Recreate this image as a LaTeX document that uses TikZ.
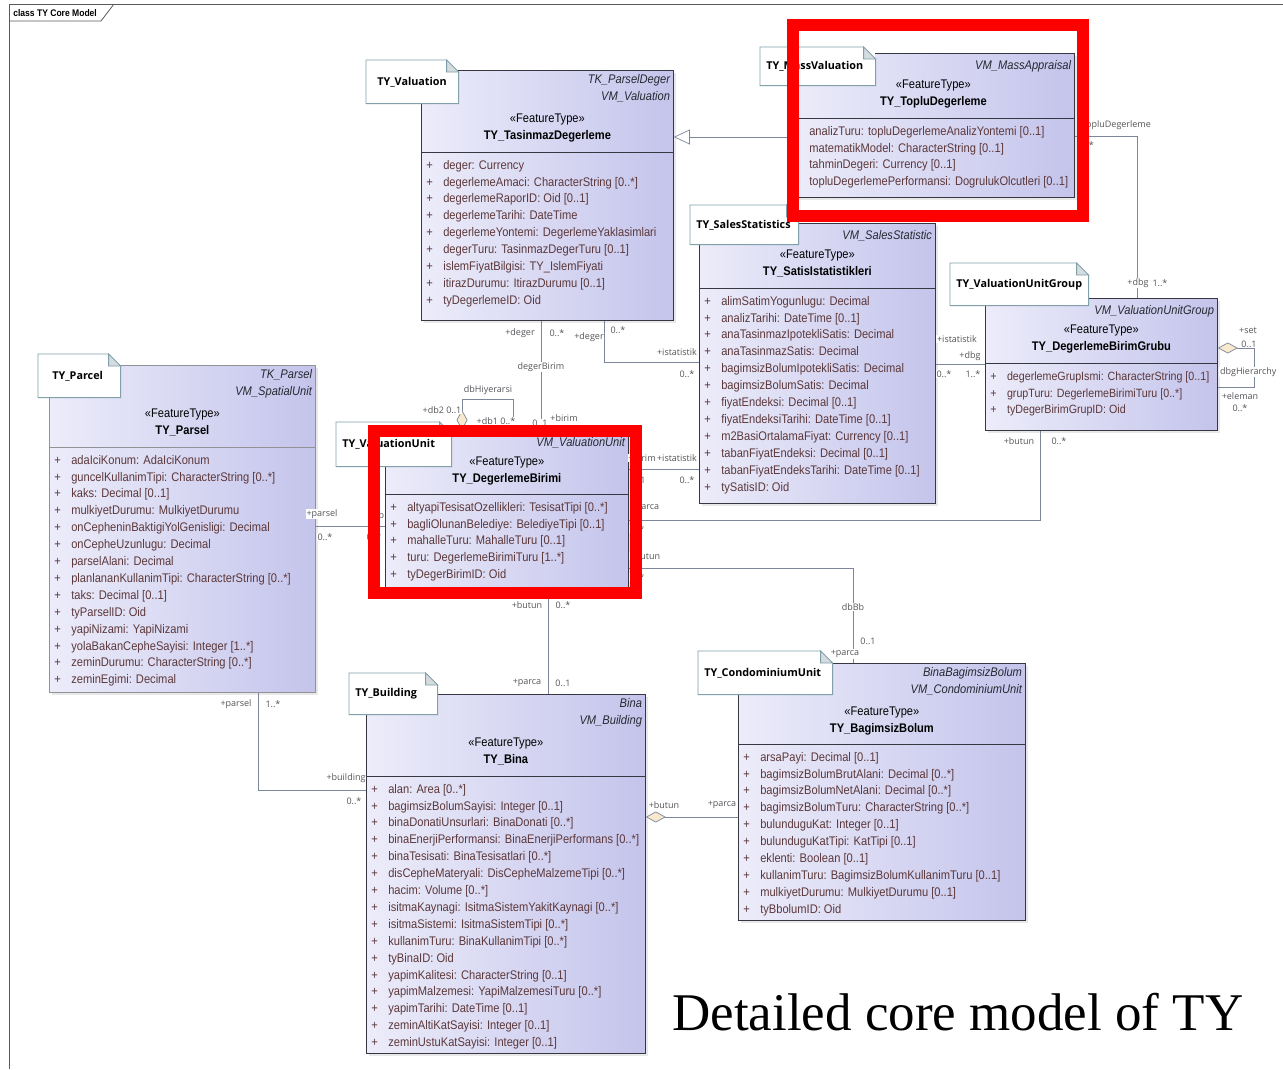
\documentclass[tikz,border=0pt]{standalone}
\usepackage{fontspec}
\setmainfont{Liberation Sans}
\newfontfamily\narrowsf{Liberation Sans}[FakeStretch=0.89]
\newfontfamily\notesf{Open Sans}
\newfontfamily\captionrm{Liberation Serif}
\usetikzlibrary{arrows.meta,shadows}

\definecolor{clsleft}{RGB}{236,236,250}
\definecolor{clsright}{RGB}{196,196,236}
\definecolor{clsline}{RGB}{55,55,65}
\definecolor{attrtext}{RGB}{92,56,58}
\definecolor{pkgtext}{RGB}{40,40,50}
\definecolor{noteline}{RGB}{130,160,170}
\definecolor{notecorner}{RGB}{212,220,224}
\definecolor{wirecol}{RGB}{125,135,155}
\definecolor{lbltext}{RGB}{85,85,90}
\definecolor{aggfill}{RGB}{248,232,205}
\definecolor{framecol}{RGB}{90,90,90}

\begin{document}
\begin{tikzpicture}[
    x=1pt, y=-1pt,
    line width=0.6pt,
    every node/.style={inner sep=0pt},
    umlclass/.style={
        rectangle,
        anchor=north west,
        draw=clsline,
        line width=0.8pt,
        left color=clsleft,
        right color=clsright,
        drop shadow={shadow xshift=2.5pt, shadow yshift=-2.5pt, fill=black!18}
    },
    sepline/.style={draw=clsline, line width=0.8pt},
    pkg/.style={anchor=north east, align=right, text=pkgtext,
        font=\narrowsf\itshape\fontsize{12.5}{17}\selectfont, execute at begin node=\strut},
    head/.style={anchor=north, align=center,
        font=\narrowsf\fontsize{12.5}{17}\selectfont, execute at begin node=\strut},
    attrs/.style={anchor=north west, text=attrtext, font=\narrowsf\fontsize{12.5}{16.9}\selectfont},
    umlnote/.style={anchor=north west, fill=white, inner xsep=6pt, align=left,
        font=\notesf\bfseries\fontsize{10.8}{12}\selectfont},
    notebody/.style={draw=noteline, line width=0.8pt},
    notefold/.style={draw=noteline, fill=notecorner, line width=0.8pt},
    wire/.style={draw=wirecol, line width=0.7pt},
    lbl/.style={fill=white, inner sep=0.8pt, text=lbltext, font=\notesf\fontsize{9}{10}\selectfont},
    genarrow/.style={wire, -{Triangle[open, length=16pt, width=15pt]}},
    aggr/.style={wire, {Diamond[length=20pt, width=11pt, fill=aggfill]}-},
    frameline/.style={draw=framecol, line width=0.8pt},
    framelbl/.style={anchor=west, font=\narrowsf\bfseries\fontsize{9.6}{11}\selectfont},
    marker/.style={draw=red, line width=12pt}
]
\useasboundingbox (0,0) rectangle (1283,1069);

% diagram frame
\draw[frameline] (9,1069) -- (9,4) -- (1283,4);
\node[framelbl] (frame-lbl) at (13,13) {class TY Core Model};
\draw[frameline] (9,21) -- (101,21) -- (114,4);

% TY_TasinmazDegerleme
\node[umlclass, minimum width=252pt, minimum height=250pt] (tasinmaz) at (421,70) {};
\draw[sepline] ([yshift=-82pt]tasinmaz.north west) -- ([yshift=-82pt]tasinmaz.north east);
\node[pkg] (tasinmaz-pkg) at ([xshift=-3.5pt,yshift=-4pt]tasinmaz.north east) {TK\_ParselDeger\\VM\_Valuation};
\node[head] (tasinmaz-head) at ([yshift=-44pt]tasinmaz.north) {«FeatureType»\\\textbf{TY\_TasinmazDegerleme}};
\node[attrs] (tasinmaz-attr) at ([xshift=5pt,yshift=-87pt]tasinmaz.north west) {\begin{tabular}{@{}l@{\hspace{10.5pt}}l@{}}
+ & deger: Currency\\
+ & degerlemeAmaci: CharacterString [0..*]\\
+ & degerlemeRaporID: Oid [0..1]\\
+ & degerlemeTarihi: DateTime\\
+ & degerlemeYontemi: DegerlemeYaklasimlari\\
+ & degerTuru: TasinmazDegerTuru [0..1]\\
+ & islemFiyatBilgisi: TY\_IslemFiyati\\
+ & itirazDurumu: ItirazDurumu [0..1]\\
+ & tyDegerlemeID: Oid
\end{tabular}};

% TY_TopluDegerleme
\node[umlclass, minimum width=282pt, minimum height=144pt] (toplu) at (792,53) {};
\draw[sepline] ([yshift=-65pt]toplu.north west) -- ([yshift=-65pt]toplu.north east);
\node[pkg] (toplu-pkg) at ([xshift=-3.5pt,yshift=-4pt]toplu.north east) {VM\_MassAppraisal};
\node[head] (toplu-head) at ([yshift=-27pt]toplu.north) {«FeatureType»\\\textbf{TY\_TopluDegerleme}};
\node[attrs] (toplu-attr) at ([xshift=17pt,yshift=-70pt]toplu.north west) {\begin{tabular}{@{}l@{}}
analizTuru: topluDegerlemeAnalizYontemi [0..1]\\
matematikModel: CharacterString [0..1]\\
tahminDegeri: Currency [0..1]\\
topluDegerlemePerformansi: DogrulukOlcutleri [0..1]
\end{tabular}};

% TY_SatisIstatistikleri
\node[umlclass, minimum width=236pt, minimum height=280pt] (satis) at (699,223) {};
\draw[sepline] ([yshift=-65pt]satis.north west) -- ([yshift=-65pt]satis.north east);
\node[pkg] (satis-pkg) at ([xshift=-3.5pt,yshift=-4pt]satis.north east) {VM\_SalesStatistic};
\node[head] (satis-head) at ([yshift=-27pt]satis.north) {«FeatureType»\\\textbf{TY\_SatisIstatistikleri}};
\node[attrs] (satis-attr) at ([xshift=5pt,yshift=-70pt]satis.north west) {\begin{tabular}{@{}l@{\hspace{10.5pt}}l@{}}
+ & alimSatimYogunlugu: Decimal\\
+ & analizTarihi: DateTime [0..1]\\
+ & anaTasinmazIpotekliSatis: Decimal\\
+ & anaTasinmazSatis: Decimal\\
+ & bagimsizBolumIpotekliSatis: Decimal\\
+ & bagimsizBolumSatis: Decimal\\
+ & fiyatEndeksi: Decimal [0..1]\\
+ & fiyatEndeksiTarihi: DateTime [0..1]\\
+ & m2BasiOrtalamaFiyat: Currency [0..1]\\
+ & tabanFiyatEndeksi: Decimal [0..1]\\
+ & tabanFiyatEndeksTarihi: DateTime [0..1]\\
+ & tySatisID: Oid
\end{tabular}};

% TY_DegerlemeBirimGrubu
\node[umlclass, minimum width=232pt, minimum height=132pt] (grubu) at (985,298) {};
\draw[sepline] ([yshift=-65pt]grubu.north west) -- ([yshift=-65pt]grubu.north east);
\node[pkg] (grubu-pkg) at ([xshift=-3.5pt,yshift=-4pt]grubu.north east) {VM\_ValuationUnitGroup};
\node[head] (grubu-head) at ([yshift=-27pt]grubu.north) {«FeatureType»\\\textbf{TY\_DegerlemeBirimGrubu}};
\node[attrs, font=\narrowsf\fontsize{12}{16.9}\selectfont] (grubu-attr) at ([xshift=5pt,yshift=-70pt]grubu.north west) {\begin{tabular}{@{}l@{\hspace{10.5pt}}l@{}}
+ & degerlemeGrupIsmi: CharacterString [0..1]\\
+ & grupTuru: DegerlemeBirimiTuru [0..*]\\
+ & tyDegerBirimGrupID: Oid
\end{tabular}};

% TY_Parsel
\node[umlclass, draw=clsline!55, minimum width=266pt, minimum height=327pt] (parsel) at (49,365) {};
\draw[sepline, draw=clsline!55] ([yshift=-82pt]parsel.north west) -- ([yshift=-82pt]parsel.north east);
\node[pkg] (parsel-pkg) at ([xshift=-3.5pt,yshift=-4pt]parsel.north east) {TK\_Parsel\\VM\_SpatialUnit};
\node[head] (parsel-head) at ([yshift=-44pt]parsel.north) {«FeatureType»\\\textbf{TY\_Parsel}};
\node[attrs] (parsel-attr) at ([xshift=5pt,yshift=-87pt]parsel.north west) {\begin{tabular}{@{}l@{\hspace{10.5pt}}l@{}}
+ & adaIciKonum: AdaIciKonum\\
+ & guncelKullanimTipi: CharacterString [0..*]\\
+ & kaks: Decimal [0..1]\\
+ & mulkiyetDurumu: MulkiyetDurumu\\
+ & onCepheninBaktigiYolGenisligi: Decimal\\
+ & onCepheUzunlugu: Decimal\\
+ & parselAlani: Decimal\\
+ & planlananKullanimTipi: CharacterString [0..*]\\
+ & taks: Decimal [0..1]\\
+ & tyParselID: Oid\\
+ & yapiNizami: YapiNizami\\
+ & yolaBakanCepheSayisi: Integer [1..*]\\
+ & zeminDurumu: CharacterString [0..*]\\
+ & zeminEgimi: Decimal
\end{tabular}};

% TY_DegerlemeBirimi
\node[umlclass, minimum width=243pt, minimum height=162pt] (dbirimi) at (385,430) {};
\draw[sepline] ([yshift=-64pt]dbirimi.north west) -- ([yshift=-64pt]dbirimi.north east);
\node[pkg] (dbirimi-pkg) at ([xshift=-3.5pt,yshift=-4pt]dbirimi.north east) {VM\_ValuationUnit};
\node[head] (dbirimi-head) at ([yshift=-27pt]dbirimi.north) {«FeatureType»\\\textbf{TY\_DegerlemeBirimi}};
\node[attrs] (dbirimi-attr) at ([xshift=5pt,yshift=-69pt]dbirimi.north west) {\begin{tabular}{@{}l@{\hspace{10.5pt}}l@{}}
+ & altyapiTesisatOzellikleri: TesisatTipi [0..*]\\
+ & bagliOlunanBelediye: BelediyeTipi [0..1]\\
+ & mahalleTuru: MahalleTuru [0..1]\\
+ & turu: DegerlemeBirimiTuru [1..*]\\
+ & tyDegerBirimID: Oid
\end{tabular}};

% TY_Bina
\node[umlclass, minimum width=279pt, minimum height=359pt] (bina) at (366,694) {};
\draw[sepline] ([yshift=-82pt]bina.north west) -- ([yshift=-82pt]bina.north east);
\node[pkg] (bina-pkg) at ([xshift=-3.5pt,yshift=-4pt]bina.north east) {Bina\\VM\_Building};
\node[head] (bina-head) at ([yshift=-44pt]bina.north) {«FeatureType»\\\textbf{TY\_Bina}};
\node[attrs] (bina-attr) at ([xshift=5pt,yshift=-87pt]bina.north west) {\begin{tabular}{@{}l@{\hspace{10.5pt}}l@{}}
+ & alan: Area [0..*]\\
+ & bagimsizBolumSayisi: Integer [0..1]\\
+ & binaDonatiUnsurlari: BinaDonati [0..*]\\
+ & binaEnerjiPerformansi: BinaEnerjiPerformans [0..*]\\
+ & binaTesisati: BinaTesisatlari [0..*]\\
+ & disCepheMateryali: DisCepheMalzemeTipi [0..*]\\
+ & hacim: Volume [0..*]\\
+ & isitmaKaynagi: IsitmaSistemYakitKaynagi [0..*]\\
+ & isitmaSistemi: IsitmaSistemTipi [0..*]\\
+ & kullanimTuru: BinaKullanimTipi [0..*]\\
+ & tyBinaID: Oid\\
+ & yapimKalitesi: CharacterString [0..1]\\
+ & yapimMalzemesi: YapiMalzemesiTuru [0..*]\\
+ & yapimTarihi: DateTime [0..1]\\
+ & zeminAltiKatSayisi: Integer [0..1]\\
+ & zeminUstuKatSayisi: Integer [0..1]
\end{tabular}};

% TY_BagimsizBolum
\node[umlclass, minimum width=287pt, minimum height=257pt] (bolum) at (738,663) {};
\draw[sepline] ([yshift=-81pt]bolum.north west) -- ([yshift=-81pt]bolum.north east);
\node[pkg] (bolum-pkg) at ([xshift=-3.5pt,yshift=-4pt]bolum.north east) {BinaBagimsizBolum\\VM\_CondominiumUnit};
\node[head] (bolum-head) at ([yshift=-44pt]bolum.north) {«FeatureType»\\\textbf{TY\_BagimsizBolum}};
\node[attrs] (bolum-attr) at ([xshift=5pt,yshift=-86pt]bolum.north west) {\begin{tabular}{@{}l@{\hspace{10.5pt}}l@{}}
+ & arsaPayi: Decimal [0..1]\\
+ & bagimsizBolumBrutAlani: Decimal [0..*]\\
+ & bagimsizBolumNetAlani: Decimal [0..*]\\
+ & bagimsizBolumTuru: CharacterString [0..*]\\
+ & bulunduguKat: Integer [0..1]\\
+ & bulunduguKatTipi: KatTipi [0..1]\\
+ & eklenti: Boolean [0..1]\\
+ & kullanimTuru: BagimsizBolumKullanimTuru [0..1]\\
+ & mulkiyetDurumu: MulkiyetDurumu [0..1]\\
+ & tyBbolumID: Oid
\end{tabular}};

% package notes
\node[umlnote, inner xsep=11pt, text width=70pt, minimum height=43pt] (tasinmaz-note) at (366,60) {TY\_Valuation};
\node[umlnote, text width=103pt, minimum height=38pt] (toplu-note) at (760,47) {TY\_MassValuation};
\node[umlnote, text width=96pt, minimum height=39pt] (satis-note) at (690,205) {TY\_SalesStatistics};
\node[umlnote, text width=126pt, minimum height=42pt] (grubu-note) at (950,263) {TY\_ValuationUnitGroup};
\node[umlnote, inner xsep=14pt, text width=54pt, minimum height=43pt] (parsel-note) at (38,354) {TY\_Parcel};
\node[umlnote, text width=103pt, minimum height=44pt] (dbirimi-note) at (336,422) {TY\_ValuationUnit};
\node[umlnote, text width=76pt, minimum height=41pt] (bina-note) at (349,673) {TY\_Building};
\node[umlnote, text width=122pt, minimum height=43pt] (bolum-note) at (698,651) {TY\_CondominiumUnit};
\foreach \n in {tasinmaz-note,toplu-note,satis-note,grubu-note,parsel-note,dbirimi-note,bina-note,bolum-note}{
    \draw[notebody] (\n.south west) -- (\n.north west) -- ([xshift=-12pt]\n.north east)
        -- ([yshift=-12pt]\n.north east) -- (\n.south east) -- cycle;
    \draw[notefold] ([xshift=-12pt]\n.north east) -- ([xshift=-12pt,yshift=-12pt]\n.north east)
        -- ([yshift=-12pt]\n.north east) -- cycle;
}

% connectors
\draw[genarrow] ([yshift=-84pt]toplu.north west) -- ([yshift=-67pt]tasinmaz.north east);

\coordinate (c-deger) at ([xshift=120pt]tasinmaz.south west);
\draw[wire] (c-deger) -- (c-deger |- dbirimi.north);
\draw[wire] ([xshift=183pt]tasinmaz.south west) |- ([yshift=-139pt]satis.north west);
\draw[aggr] ([xshift=77pt]dbirimi.north west) -- ++(0,-31) -| ([xshift=128pt]dbirimi.north west);

\coordinate (c-birim) at ([yshift=-39pt]dbirimi.north east);
\draw[wire] (c-birim) -- (c-birim -| satis.west);
\coordinate (c-parca) at ([yshift=-90pt]dbirimi.north east);
\draw[wire] (c-parca) -| ([xshift=55pt]grubu.south west);
\coordinate (c-butun) at ([yshift=-138pt]dbirimi.north east);
\draw[wire] (c-butun) -| ([xshift=115pt]bolum.north west);
\coordinate (c-bina) at ([xshift=163pt]dbirimi.south west);
\draw[wire] (c-bina) -- (c-bina |- bina.north);

\coordinate (c-parsel) at ([yshift=-161pt]parsel.north east);
\draw[wire] (c-parsel) -- (c-parsel -| dbirimi.west);
\draw[wire] ([xshift=209pt]parsel.south west) |- ([yshift=-96pt]bina.north west);
\coordinate (c-bb) at ([yshift=-123pt]bina.north east);
\draw[aggr] (c-bb) -- (c-bb -| bolum.west);

\draw[wire] ([yshift=-83pt]toplu.north east) -| ([xshift=152pt]grubu.north west);
\coordinate (c-ist) at ([yshift=-141pt]satis.north east);
\draw[wire] (c-ist) -- (c-ist -| grubu.west);
\draw[aggr] ([yshift=-50pt]grubu.north east) -- ++(37,0) |- ([yshift=-89pt]grubu.north east);

% connector labels
\node[lbl] (l-deger1) at (520,333) {+deger};
\node[lbl] (l-deger1-m) at (557,333) {0..*};
\node[lbl] (l-degerbirim) at (541,367) {degerBirim};
\node[lbl] (l-birim1-m) at (540,423) {0..1};
\node[lbl] (l-birim1) at (564,418) {+birim};
\node[lbl] (l-deger2) at (589,337) {+deger};
\node[lbl] (l-deger2-m) at (618,330) {0..*};
\node[lbl] (l-ist1) at (677,352) {+istatistik};
\node[lbl] (l-ist1-m) at (687,374) {0..*};

\node[lbl] (l-dbhier) at (488,390) {dbHiyerarsi};
\node[lbl] (l-db2) at (442,410) {+db2 0..1};
\node[lbl] (l-db1) at (496,421) {+db1 0..*};

\node[lbl] (l-birim2) at (642,458) {+birim};
\node[lbl] (l-ist2) at (677,458) {+istatistik};
\node[lbl] (l-birim2-m) at (638,480) {0..1};
\node[lbl] (l-ist2-m) at (687,480) {0..*};

\node[lbl] (l-parca1) at (645,508) {+parca};
\node[lbl] (l-parca1-m) at (637,529) {0..*};
\node[lbl] (l-butun1) at (1019,441) {+butun};
\node[lbl] (l-butun1-m) at (1059,441) {0..*};

\node[lbl] (l-butun2) at (645,556) {+butun};
\node[lbl] (l-butun2-m) at (637,577) {0..*};
\node[lbl] (l-dbbb) at (853,607) {dbBb};
\node[lbl] (l-parca2-m) at (868,641) {0..1};
\node[lbl] (l-parca2) at (845,654) {+parca};

\node[lbl] (l-butun3) at (527,605) {+butun};
\node[lbl] (l-butun3-m) at (563,605) {0..*};
\node[lbl] (l-parca3) at (527,683) {+parca};
\node[lbl] (l-parca3-m) at (563,683) {0..1};

\node[lbl] (l-parsel1) at (322,514) {+parsel};
\node[lbl] (l-parsel1-m) at (325,537) {0..*};
\node[lbl] (l-db3) at (376,515) {+db};
\node[lbl] (l-db3-m) at (374,537) {0..*};

\node[lbl] (l-parsel2) at (236,704) {+parsel};
\node[lbl] (l-parsel2-m) at (273,704) {1..*};
\node[lbl] (l-building) at (346,778) {+building};
\node[lbl] (l-building-m) at (354,801) {0..*};

\node[lbl] (l-butun4) at (664,805) {+butun};
\node[lbl] (l-parca4) at (722,805) {+parca};

\node[lbl, anchor=east] (l-toplu) at (1152,125) {+topluDegerleme};
\node[lbl, anchor=east] (l-toplu-m) at (1095,145) {0..*};
\node[lbl] (l-dbg1) at (1138,283) {+dbg};
\node[lbl] (l-dbg1-m) at (1160,283) {1..*};

\node[lbl] (l-ist3) at (957,339) {+istatistik};
\node[lbl] (l-dbg2) at (970,356) {+dbg};
\node[lbl] (l-ist3-m) at (944,374) {0..*};
\node[lbl] (l-dbg2-m) at (973,374) {1..*};

\node[lbl] (l-set) at (1248,331) {+set};
\node[lbl] (l-set-m) at (1249,344) {0..1};
\node[lbl, anchor=west] (l-dbghier) at (1219,372) {dbgHierarchy};
\node[lbl] (l-eleman) at (1240,396) {+eleman};
\node[lbl] (l-eleman-m) at (1240,408) {0..*};

% highlight marks
\draw[marker] (374,431) rectangle (635.5,593);
\draw[marker] (792.5,25) rectangle (1082.5,215.5);

% caption
\node[anchor=base west, font=\captionrm\fontsize{53}{60}\selectfont] (caption) at (672,1030) {Detailed core model of TY};

\end{tikzpicture}
\end{document}
